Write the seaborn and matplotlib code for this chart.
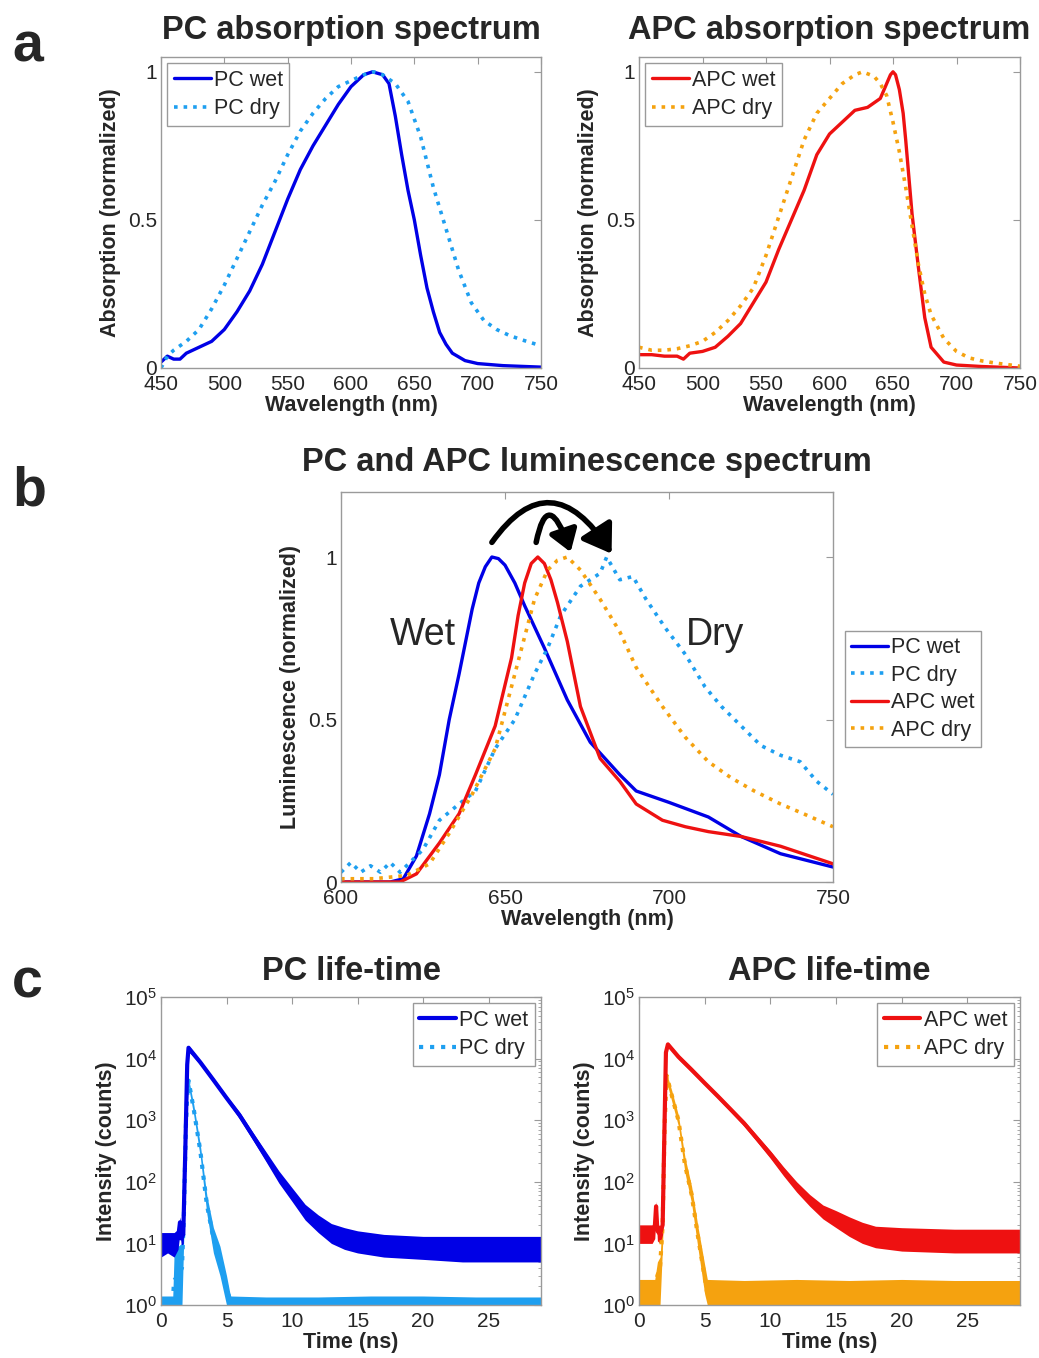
import numpy as np
import seaborn as sns
import matplotlib.pyplot as plt
from matplotlib.patches import FancyArrowPatch
from matplotlib.path import Path

# ---------------- data ----------------
# a) PC absorption
pc_abs_wet_x = [450, 455, 460, 465, 470, 480, 490, 500, 510, 520, 530, 540, 550, 560, 570, 580, 590,
                600, 610, 617, 625, 630, 635, 640, 645, 650, 655, 660, 665, 670, 675, 680, 690, 700, 720, 750]
pc_abs_wet_y = [0.02, 0.04, 0.03, 0.03, 0.05, 0.07, 0.09, 0.13, 0.19, 0.26, 0.35, 0.46, 0.57, 0.67, 0.75,
                0.82, 0.89, 0.95, 0.99, 1.0, 0.99, 0.96, 0.85, 0.72, 0.60, 0.50, 0.38, 0.27, 0.19, 0.12,
                0.08, 0.05, 0.025, 0.015, 0.008, 0.003]
pc_abs_dry_x = [450, 455, 460, 470, 480, 490, 500, 510, 520, 530, 540, 550, 560, 570, 580, 590, 600,
                610, 618, 625, 635, 645, 655, 665, 675, 685, 695, 705, 715, 725, 735, 750]
pc_abs_dry_y = [0.0, 0.04, 0.06, 0.09, 0.13, 0.20, 0.28, 0.37, 0.46, 0.55, 0.63, 0.72, 0.80, 0.86, 0.91,
                0.95, 0.97, 0.99, 1.0, 0.99, 0.96, 0.90, 0.78, 0.61, 0.47, 0.33, 0.22, 0.16, 0.13, 0.11,
                0.095, 0.075]

# a) APC absorption
apc_abs_wet_x = [450, 460, 470, 480, 485, 490, 500, 510, 520, 530, 540, 550, 560, 570, 580, 590, 600,
                 610, 620, 630, 640, 645, 648, 650, 652, 655, 658, 660, 665, 670, 675, 680, 690, 700,
                 720, 750]
apc_abs_wet_y = [0.045, 0.045, 0.04, 0.04, 0.03, 0.05, 0.056, 0.07, 0.107, 0.15, 0.22, 0.29, 0.40, 0.50,
                 0.60, 0.72, 0.79, 0.83, 0.87, 0.88, 0.91, 0.96, 0.99, 1.0, 0.99, 0.94, 0.86, 0.77,
                 0.52, 0.34, 0.17, 0.07, 0.02, 0.01, 0.005, 0.0]
apc_abs_dry_x = [450, 460, 470, 480, 490, 500, 510, 520, 530, 540, 550, 560, 570, 580, 590, 600, 610,
                 620, 626, 635, 640, 645, 650, 655, 660, 665, 670, 675, 680, 690, 700, 710, 720, 730, 750]
apc_abs_dry_y = [0.07, 0.06, 0.06, 0.065, 0.075, 0.09, 0.12, 0.16, 0.21, 0.27, 0.38, 0.51, 0.64, 0.77,
                 0.86, 0.91, 0.96, 0.99, 1.0, 0.985, 0.96, 0.92, 0.83, 0.73, 0.61, 0.48, 0.35, 0.25,
                 0.18, 0.10, 0.056, 0.034, 0.024, 0.017, 0.006]

# b) luminescence
pc_lum_wet_x = [600, 615, 619, 623, 627, 630, 633, 636, 640, 642, 644, 646, 648, 650, 653, 656, 662,
                669, 676, 685, 690, 700, 712, 722, 734, 750]
pc_lum_wet_y = [0.0, 0.0, 0.01, 0.08, 0.21, 0.33, 0.50, 0.64, 0.84, 0.92, 0.97, 1.0, 0.995, 0.975,
                0.92, 0.85, 0.72, 0.56, 0.43, 0.33, 0.28, 0.245, 0.20, 0.14, 0.087, 0.046]
pc_lum_dry_x = [600, 603, 606, 609, 612, 615, 618, 621, 625, 630, 636, 641, 647, 653, 659, 663, 667,
                673, 679, 681, 685, 689, 693, 699, 705, 711, 716, 722, 728, 734, 740, 745, 750]
pc_lum_dry_y = [0.03, 0.06, 0.03, 0.05, 0.03, 0.06, 0.03, 0.06, 0.10, 0.19, 0.24, 0.28, 0.41, 0.50,
                0.64, 0.72, 0.82, 0.91, 0.95, 1.0, 0.93, 0.94, 0.87, 0.78, 0.70, 0.60, 0.54, 0.48,
                0.42, 0.39, 0.37, 0.31, 0.27]
apc_lum_wet_x = [600, 618, 623, 630, 636, 641, 647, 652, 654, 656, 658, 660, 662, 664, 666, 669, 673,
                 679, 685, 690, 698, 705, 712, 722, 734, 750]
apc_lum_wet_y = [0.0, 0.0, 0.025, 0.12, 0.21, 0.33, 0.48, 0.69, 0.82, 0.92, 0.98, 1.0, 0.98, 0.93,
                 0.86, 0.74, 0.54, 0.38, 0.31, 0.24, 0.19, 0.17, 0.155, 0.14, 0.11, 0.056]
apc_lum_dry_x = [600, 610, 620, 627, 633, 640, 647, 653, 659, 663, 666, 669, 673, 679, 685, 690, 698,
                 705, 712, 719, 726, 734, 741, 750]
apc_lum_dry_y = [0.01, 0.01, 0.02, 0.056, 0.15, 0.27, 0.41, 0.64, 0.87, 0.96, 0.99, 1.0, 0.96, 0.87,
                 0.77, 0.66, 0.54, 0.445, 0.37, 0.32, 0.28, 0.24, 0.21, 0.17]

# c) PC life-time (centre, lower / upper edge of the noise band)
pc_wet_t = [0, 0.5, 1.0, 1.3, 1.45, 1.55, 1.7, 1.85, 2.0, 2.1, 3, 4, 5, 6, 7, 8, 9, 10, 11, 12, 13,
            14, 15, 17, 20, 23, 26, 29]
pc_wet_c = [10, 10, 10, 12, 22, 12, 14, 300, 8000, 15000, 8700, 4500, 2300, 1200, 560, 260, 120, 63,
            33, 21, 15, 12.5, 11, 10, 9, 8.5, 8.3, 8]
pc_wet_lo = [6, 7, 6, 8, 15, 9, 10, 200, 6000, 13000, 8000, 4100, 2100, 1050, 480, 215, 95, 48, 24,
             15, 10, 8, 7, 6, 5.5, 5, 5, 5]
pc_wet_hi = [15, 15, 15, 17, 27, 16, 18, 400, 10000, 16500, 9400, 4900, 2500, 1350, 640, 310, 150, 80,
             43, 29, 21, 18, 16, 14, 13, 13, 13, 13]
pc_dry_t = [0, 0.9, 1.0, 1.3, 1.6, 1.75, 1.9, 2.0, 2.1, 2.5, 3.0, 3.5, 4.0, 4.5, 5.0, 5.3, 8, 12, 16,
            20, 24, 29]
pc_dry_c = [1.15, 1.15, 2.5, 3, 4, 30, 800, 2500, 4400, 1500, 316, 43, 12, 5.8, 1.9, 1.15, 1.15, 1.15,
            1.15, 1.15, 1.15, 1.15]
pc_dry_lo = [1, 1, 1, 1, 1, 15, 500, 1800, 3500, 1200, 250, 30, 7, 3, 1, 1, 1, 1, 1, 1, 1, 1]
pc_dry_hi = [1.4, 1.4, 7, 9, 10, 50, 1200, 3300, 4800, 1800, 400, 60, 18, 9, 3, 1.4, 1.35, 1.35, 1.4,
             1.4, 1.35, 1.35]

# c) APC life-time
apc_wet_t = [0, 0.5, 1.0, 1.2, 1.3, 1.4, 1.6, 1.8, 1.95, 2.05, 2.2, 3, 4, 5, 6, 7, 8, 9, 10, 11, 12,
             13, 14, 15, 16, 17, 18, 20, 24, 29]
apc_wet_c = [15, 15, 15, 18, 40, 16, 14, 20, 1000, 12600, 17000, 10700, 6600, 4000, 2450, 1480, 890,
             500, 280, 150, 83, 50, 33, 25, 19, 15, 13, 12, 11.2, 11]
apc_wet_lo = [10, 10, 10, 12, 30, 11, 10, 14, 700, 10000, 15500, 9800, 6000, 3700, 2250, 1350, 800,
              440, 240, 125, 68, 40, 25, 18, 13, 10, 8.5, 7.5, 7, 7]
apc_wet_hi = [20, 20, 20, 24, 48, 21, 19, 27, 1400, 15000, 18500, 11600, 7200, 4300, 2650, 1600, 980,
              560, 320, 175, 100, 62, 42, 34, 27, 22, 19, 18, 17, 17]
apc_dry_t = [0, 1.1, 1.2, 1.4, 1.6, 1.8, 1.95, 2.1, 2.5, 3.0, 3.5, 4.0, 4.5, 5.0, 5.2, 8, 12, 16, 20,
             24, 29]
apc_dry_c = [1.5, 1.5, 1.5, 3, 4, 20, 800, 5300, 2500, 1000, 190, 63, 12.6, 2.8, 1.5, 1.5, 1.5, 1.5,
             1.5, 1.5, 1.5]
apc_dry_lo = [1, 1, 1, 1, 1, 10, 500, 4200, 2000, 800, 140, 45, 8, 1.5, 1, 1, 1, 1, 1, 1, 1]
apc_dry_hi = [2.6, 2.6, 2.6, 5, 6, 30, 1200, 5800, 3000, 1200, 250, 85, 18, 4.5, 2.6, 2.5, 2.6, 2.5,
              2.6, 2.5, 2.5]

# red-shift arrows in panel b: start, control, end (wavelength, luminescence)
arrow_big = [(646, 1.045), (664, 1.30), (682.5, 1.01)]
arrow_small = [(659.5, 1.045), (663, 1.22), (670, 1.015)]

BLUE = "#0000e6"
LBLUE = "#1e9ff0"
RED = "#ee1111"
ORANGE = "#f5a20f"
GREY = "#9a9a9a"

# ---------------- style ----------------
sns.set_style("white")
plt.rcParams["font.family"] = ["Liberation Sans", "DejaVu Sans"]
plt.rcParams["mathtext.fontset"] = "custom"
plt.rcParams["mathtext.rm"] = "Liberation Sans"

fig = plt.figure(figsize=(10.39, 13.58), dpi=100)
W, H = 1039, 1358


def add_ax(x0, y0, x1, y1):
    # pixel box (left, top, right, bottom) -> figure axes
    return fig.add_axes([x0 / W, 1 - y1 / H, (x1 - x0) / W, (y1 - y0) / H])


def style_ax(ax, title, xlabel, ylabel, pad=13):
    for s in ax.spines.values():
        s.set_color(GREY)
        s.set_linewidth(1.0)
    ax.tick_params(direction="in", top=True, right=True, length=5, color=GREY,
                   labelsize=15, which="major")
    ax.tick_params(axis="x", pad=5)
    ax.tick_params(axis="y", pad=3)
    ax.tick_params(direction="in", top=True, right=True, length=2.5, color=GREY, which="minor")
    ax.set_title(title, fontsize=23.5, fontweight="bold", pad=pad)
    ax.set_xlabel(xlabel, fontsize=15.5, fontweight="bold", labelpad=1)
    ax.set_ylabel(ylabel, fontsize=15.5, fontweight="bold", labelpad=5)


def legend(ax, **kw):
    opts = dict(fontsize=15.5, frameon=True, fancybox=False, framealpha=1,
                edgecolor=GREY, handlelength=1.7, handletextpad=0.15,
                borderpad=0.3, labelspacing=0.35, borderaxespad=0.3)
    opts.update(kw)
    leg = ax.legend(**opts)
    leg.get_frame().set_linewidth(1.0)
    return leg


def abs_panel(ax, xw, yw, xd, yd, cw, cd, lw_lab, ld_lab, title):
    sns.lineplot(x=xw, y=yw, ax=ax, color=cw, lw=2.4, label=lw_lab)
    sns.lineplot(x=xd, y=yd, ax=ax, color=cd, lw=2.6, linestyle=":", label=ld_lab)
    ax.set_xlim(450, 750)
    ax.set_ylim(0, 1.05)
    ax.set_xticks([450, 500, 550, 600, 650, 700, 750])
    ax.set_yticks([0, 0.5, 1])
    ax.set_yticklabels(["0", "0.5", "1"])
    style_ax(ax, title, "Wavelength (nm)", "Absorption (normalized)")
    legend(ax, loc="upper left")


# ---------------- a ----------------
ax1 = add_ax(161, 57, 541, 368)
abs_panel(ax1, pc_abs_wet_x, pc_abs_wet_y, pc_abs_dry_x, pc_abs_dry_y, BLUE, LBLUE,
          "PC wet", "PC dry", "PC absorption spectrum")
ax2 = add_ax(639, 57, 1020, 368)
abs_panel(ax2, apc_abs_wet_x, apc_abs_wet_y, apc_abs_dry_x, apc_abs_dry_y, RED, ORANGE,
          "APC wet", "APC dry", "APC absorption spectrum")

# ---------------- b ----------------
ax3 = add_ax(341, 492, 833, 882)
sns.lineplot(x=pc_lum_wet_x, y=pc_lum_wet_y, ax=ax3, color=BLUE, lw=2.4, label="PC wet")
sns.lineplot(x=pc_lum_dry_x, y=pc_lum_dry_y, ax=ax3, color=LBLUE, lw=2.6, linestyle=":", label="PC dry")
sns.lineplot(x=apc_lum_wet_x, y=apc_lum_wet_y, ax=ax3, color=RED, lw=2.4, label="APC wet")
sns.lineplot(x=apc_lum_dry_x, y=apc_lum_dry_y, ax=ax3, color=ORANGE, lw=2.6, linestyle=":", label="APC dry")
ax3.set_xlim(600, 750)
ax3.set_ylim(0, 1.2)
ax3.set_xticks([600, 650, 700, 750])
ax3.set_yticks([0, 0.5, 1])
ax3.set_yticklabels(["0", "0.5", "1"])
style_ax(ax3, "PC and APC luminescence spectrum", "Wavelength (nm)",
         "Luminescence (normalized)", pad=15)
legend(ax3, loc="upper left", bbox_to_anchor=(845 / W, 1 - 631 / H),
       bbox_transform=fig.transFigure, borderaxespad=0, labelspacing=0.3)
ax3.text(625, 0.76, "Wet", fontsize=27, ha="center", va="center")
ax3.text(714, 0.76, "Dry", fontsize=27, ha="center", va="center")
for pts, ms in ((arrow_big, 22), (arrow_small, 17)):
    arr = FancyArrowPatch(path=Path(pts, [Path.MOVETO, Path.CURVE3, Path.CURVE3]),
                          arrowstyle="-|>,head_length=0.75,head_width=0.5",
                          mutation_scale=ms, lw=4, color="black", clip_on=False)
    ax3.add_patch(arr)


# ---------------- c ----------------
def life_panel(ax, tw, cw_, lw_, hw_, td, cd_, ld_, hd_, colw, cold, labw, labd, title):
    ax.fill_between(td, ld_, hd_, color=cold, lw=0)
    sns.lineplot(x=td, y=cd_, ax=ax, color=cold, lw=3, linestyle=":", label=labd)
    ax.fill_between(tw, lw_, hw_, color=colw, lw=0)
    sns.lineplot(x=tw, y=cw_, ax=ax, color=colw, lw=3, label=labw)
    ax.set_yscale("log")
    ax.set_xlim(0, 29)
    ax.set_ylim(1, 1e5)
    ax.set_xticks([0, 5, 10, 15, 20, 25])
    style_ax(ax, title, "Time (ns)", "Intensity (counts)", pad=12)
    h, l = ax.get_legend_handles_labels()
    legend(ax, handles=h[::-1], labels=l[::-1], loc="upper right")


ax4 = add_ax(161, 997, 541, 1305)
life_panel(ax4, pc_wet_t, pc_wet_c, pc_wet_lo, pc_wet_hi, pc_dry_t, pc_dry_c, pc_dry_lo, pc_dry_hi,
           BLUE, LBLUE, "PC wet", "PC dry", "PC life-time")
ax5 = add_ax(639, 997, 1020, 1305)
life_panel(ax5, apc_wet_t, apc_wet_c, apc_wet_lo, apc_wet_hi, apc_dry_t, apc_dry_c, apc_dry_lo,
           apc_dry_hi, RED, ORANGE, "APC wet", "APC dry", "APC life-time")

# panel letters
for lab, yy in [("a", 62), ("b", 506), ("c", 998)]:
    fig.text(12 / W, 1 - yy / H, lab, fontsize=40, fontweight="bold", va="baseline", ha="left")

fig.patch.set_facecolor("white")
fig.savefig("out.png", dpi=100, facecolor="white")
plt.close(fig)
